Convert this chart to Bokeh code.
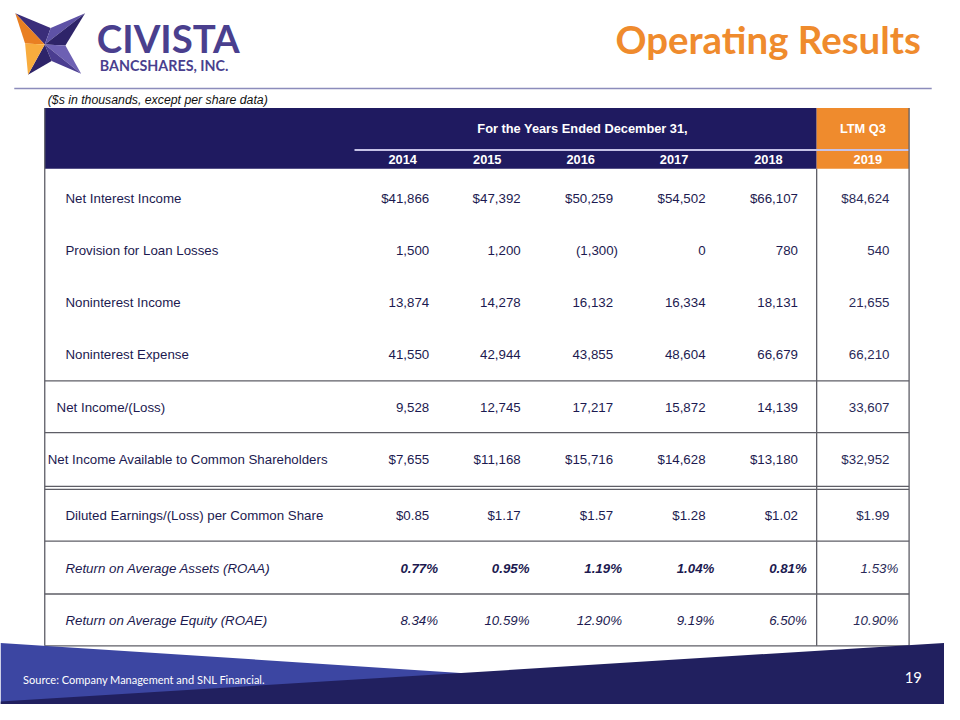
from bokeh.plotting import figure
from bokeh.models import Range1d, ColumnDataSource
from bokeh.core.properties import value
from bokeh.embed import file_html
from bokeh.resources import INLINE

# ---------------- data ----------------
title = "Operating Results"
subtitle = "($s in thousands, except per share data)"
group_header = "For the Years Ended December 31,"
ltm_header = "LTM Q3"
years = ["2014", "2015", "2016", "2017", "2018", "2019"]
row_labels = [
    "Net Interest Income",
    "Provision for Loan Losses",
    "Noninterest Income",
    "Noninterest Expense",
    "Net Income/(Loss)",
    "Net Income Available to Common Shareholders",
    "Diluted Earnings/(Loss) per Common Share",
    "Return on Average Assets (ROAA)",
    "Return on Average Equity (ROAE)",
]
net_interest_income = [41866, 47392, 50259, 54502, 66107, 84624]
provision_for_loan_losses = [1500, 1200, -1300, 0, 780, 540]
noninterest_income = [13874, 14278, 16132, 16334, 18131, 21655]
noninterest_expense = [41550, 42944, 43855, 48604, 66679, 66210]
net_income = [9528, 12745, 17217, 15872, 14139, 33607]
net_income_common = [7655, 11168, 15716, 14628, 13180, 32952]
diluted_eps = [0.85, 1.17, 1.57, 1.28, 1.02, 1.99]
roaa = [0.77, 0.95, 1.19, 1.04, 0.81, 1.53]
roae = [8.34, 10.59, 12.90, 9.19, 6.50, 10.90]
row_kinds = ["dollar", "number", "number", "number", "number", "dollar", "eps", "pct", "pct"]
source_note = "Source: Company Management and SNL Financial."
page_number = "19"

rows = [net_interest_income, provision_for_loan_losses, noninterest_income,
        noninterest_expense, net_income, net_income_common, diluted_eps, roaa, roae]

# ---------------- layout (slide pixel coordinates, 960 x 720 slide) ----------------
W, H = 944, 704
S = W / 960.0


def fs(px):
    return f"{px * S:.1f}px"


NAVY = "#1F1A60"
ORANGE = "#EF8B2D"
TXT = "#1C1A50"
GRID = "#5E5E66"
col_right = [436, 529, 623, 717, 811, 904]
year_center = [409, 495, 590, 685, 781, 882]
row_y = [203, 256, 309, 362, 416, 469, 527, 581, 634]
label_x = [66, 66, 66, 66, 57, 48, 66, 66, 66]
T_LEFT, T_RIGHT, LTM_LEFT = 45, 924, 830
H_TOP, H_MID, H_BOT, T_BOT = 110, 153, 172, 660
row_lines = [389, 442, 497, 500, 553, 607, T_BOT]

p = figure(width=W, height=H, x_range=Range1d(0, 960), y_range=Range1d(720, 0),
           output_backend="svg", toolbar_location=None, min_border=0)
p.axis.visible = False
p.grid.visible = False
p.outline_line_color = None
p.background_fill_color = "white"
p.border_fill_color = "white"

# ---------------- logo ----------------
TL, TR, BR, BL = (15, 13), (86, 13), (82, 75), (28, 76)
C = (45, 45)
IT, IR, IB, IL = (51, 28), (66, 46), (52, 62), (25, 44)
facets = [(TL, IT, "#3A2D7A"), (TR, IT, "#5E52A6"), (TR, IR, "#2E2469"),
          (BR, IR, "#6D60B3"), (BR, IB, "#4A3D90"), (BL, IB, "#2E2469"),
          (TL, IL, "#E97F22"), (BL, IL, "#F8AC3E")]
p.patches(xs=[[a[0], b[0], C[0]] for a, b, _ in facets],
          ys=[[a[1], b[1], C[1]] for a, b, _ in facets],
          fill_color=[f[2] for f in facets], line_color=None)
p.text(x=[98], y=[38], text=["CIVISTA"], text_font=value("Lato"), text_font_style="bold",
       text_font_size=fs(39), text_color="#4A3F8E", text_baseline="middle")
p.text(x=[101], y=[66], text=["BANCSHARES, INC."], text_font=value("Lato"), text_font_style="bold",
       text_font_size=fs(14.5), text_color="#4A3F8E", text_baseline="middle")

# ---------------- title ----------------
p.text(x=[936], y=[39], text=[title], text_font=value("Lato"), text_font_style="bold",
       text_font_size=fs(39), text_color=ORANGE, text_align="right", text_baseline="middle")
p.segment(x0=[14], y0=[90], x1=[947], y1=[90], line_color="#8C8CBB", line_width=1.5)
p.text(x=[48], y=[102], text=[subtitle], text_font=value("Liberation Sans"), text_font_style="italic",
       text_font_size=fs(12.5), text_color="#111111", text_baseline="middle")

# ---------------- table header ----------------
p.quad(left=[T_LEFT], right=[LTM_LEFT], top=[H_TOP], bottom=[H_BOT], fill_color=NAVY, line_color=None)
p.quad(left=[LTM_LEFT], right=[T_RIGHT], top=[H_TOP], bottom=[H_BOT], fill_color=ORANGE, line_color=None)
p.segment(x0=[360], y0=[H_MID], x1=[T_RIGHT], y1=[H_MID], line_color="#C6C2E6", line_width=2)
p.text(x=[592], y=[131], text=[group_header], text_font=value("Liberation Sans"), text_font_style="bold",
       text_font_size=fs(13), text_color="white", text_align="center", text_baseline="middle")
p.text(x=[877], y=[131], text=[ltm_header], text_font=value("Liberation Sans"), text_font_style="bold",
       text_font_size=fs(13), text_color="white", text_align="center", text_baseline="middle")
p.text(x=year_center, y=[163] * len(years), text=years, text_font=value("Liberation Sans"),
       text_font_style="bold", text_font_size=fs(13), text_color="white",
       text_align="center", text_baseline="middle")

# ---------------- grid lines ----------------
p.segment(x0=[T_LEFT] * len(row_lines), y0=row_lines, x1=[T_RIGHT] * len(row_lines), y1=row_lines,
          line_color=GRID, line_width=1.3)
p.segment(x0=[T_LEFT, T_RIGHT, LTM_LEFT], y0=[H_TOP, H_TOP, H_BOT],
          x1=[T_LEFT, T_RIGHT, LTM_LEFT], y1=[T_BOT, T_BOT, T_BOT], line_color=GRID, line_width=1.3)


def fmt(v, kind):
    if kind == "pct":
        return f"{v:.2f}%"
    if kind == "eps":
        return f"${v:.2f}"
    s = f"{abs(v):,.0f}"
    if v < 0:
        s = f"({s})"
    if kind == "dollar":
        s = "$" + s
    return s


# ---------------- row labels ----------------
lab = {"x": [], "y": [], "t": [], "st": []}
for i, name in enumerate(row_labels):
    lab["x"].append(label_x[i])
    lab["y"].append(row_y[i])
    lab["t"].append(name)
    lab["st"].append("italic" if row_kinds[i] == "pct" else "normal")
p.text(x="x", y="y", text="t", text_font_style="st", source=ColumnDataSource(lab),
       text_font=value("Liberation Sans"), text_font_size=fs(13.5), text_color=TXT,
       text_baseline="middle")

# ---------------- values ----------------
val = {"x": [], "y": [], "t": [], "st": [], "c": []}
for i, vals in enumerate(rows):
    kind = row_kinds[i]
    for j, v in enumerate(vals):
        off = 9 if kind == "pct" else (5 if v < 0 else 0)
        val["x"].append(col_right[j] + off)
        val["y"].append(row_y[i])
        val["t"].append(fmt(v, kind))
        if kind == "pct":
            st = "bold italic" if (i == 7 and j < 5) else "italic"
        else:
            st = "normal"
        val["st"].append(st)
        val["c"].append("#2A2A58" if j == 5 else TXT)
p.text(x="x", y="y", text="t", text_font_style="st", text_color="c", source=ColumnDataSource(val),
       text_font=value("Liberation Sans"), text_font_size=fs(13.5),
       text_align="right", text_baseline="middle")

# ---------------- footer ----------------
p.patch(x=[0, 960, 960, 0], y=[657, 720, 720, 720], fill_color="#3C46A2", line_color=None)
p.patch(x=[0, 960, 960, 0], y=[717, 657, 720, 720], fill_color="#21205F", line_color=None)
p.text(x=[23], y=[694], text=[source_note], text_font=value("Lato"), text_font_size=fs(11.2),
       text_color="white", text_baseline="middle")
p.text(x=[937], y=[692], text=[page_number], text_font=value("Lato"), text_font_size=fs(15),
       text_color="white", text_align="right", text_baseline="middle")

open("out.html", "w").write(file_html(p, INLINE))
